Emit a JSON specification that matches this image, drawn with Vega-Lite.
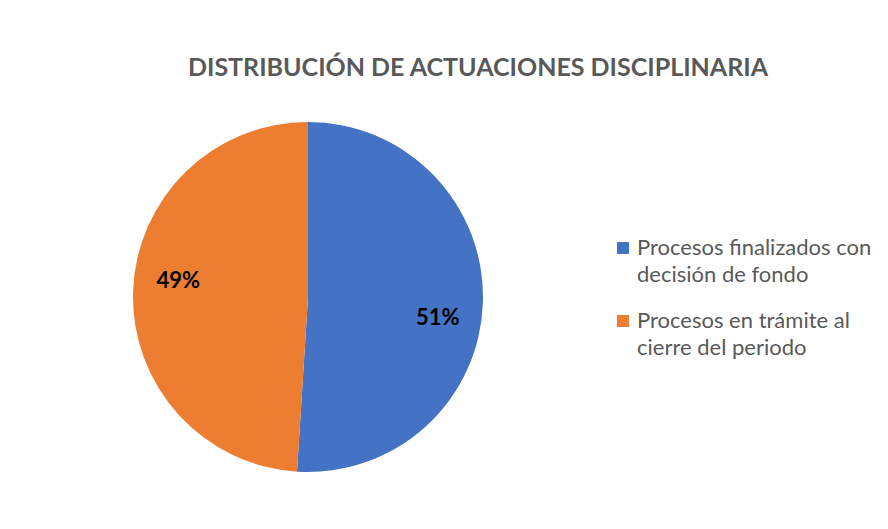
{
  "$schema": "https://vega.github.io/schema/vega-lite/v6.json",
  "width": 350,
  "height": 350,
  "autosize": {"type": "none"},
  "padding": {"left": 133, "top": 122, "right": 405, "bottom": 57},
  "background": "white",
  "title": {
    "text": "DISTRIBUCIÓN DE ACTUACIONES DISCIPLINARIA",
    "anchor": "middle",
    "dx": 170,
    "offset": 41,
    "font": "Lato",
    "fontSize": 25,
    "fontWeight": "bold",
    "color": "#595959"
  },
  "data": {
    "values": [
      {"categoria": "Procesos finalizados con decisión de fondo", "valor": 51, "pct": "51%", "orden": 1},
      {"categoria": "Procesos en trámite al cierre del periodo", "valor": 49, "pct": "49%", "orden": 2}
    ]
  },
  "encoding": {
    "theta": {"field": "valor", "type": "quantitative", "stack": true},
    "order": {"field": "orden", "type": "quantitative"}
  },
  "layer": [
    {
      "mark": {"type": "arc"},
      "encoding": {
        "color": {
          "field": "categoria",
          "type": "nominal",
          "scale": {
            "domain": ["Procesos finalizados con decisión de fondo", "Procesos en trámite al cierre del periodo"],
            "range": ["#4472C4", "#ED7D31"]
          },
          "legend": {
            "orient": "none",
            "legendX": 479,
            "legendY": 115,
            "title": null,
            "labelFont": "Lato",
            "labelFontSize": 22,
            "labelColor": "#595959",
            "labelLimit": 400,
            "symbolType": "square",
            "symbolSize": 144,
            "symbolStrokeWidth": 0,
            "labelOffset": 3,
            "rowPadding": 24,
            "labelExpr": "datum.value == 'Procesos finalizados con decisión de fondo' ? ['Procesos finalizados con', 'decisión de fondo'] : ['Procesos en trámite al', 'cierre del periodo']",
            "encode": {"labels": {"update": {"lineHeight": {"value": 27}}}}
          }
        }
      }
    },
    {
      "mark": {
        "type": "text",
        "radius": 131,
        "thetaOffset": 0.107,
        "dy": 2.5,
        "font": "Lato",
        "fontSize": 22,
        "fontWeight": "bold",
        "color": "#000000"
      },
      "encoding": {"text": {"field": "pct", "type": "nominal"}}
    }
  ],
  "config": {"view": {"stroke": null}}
}
